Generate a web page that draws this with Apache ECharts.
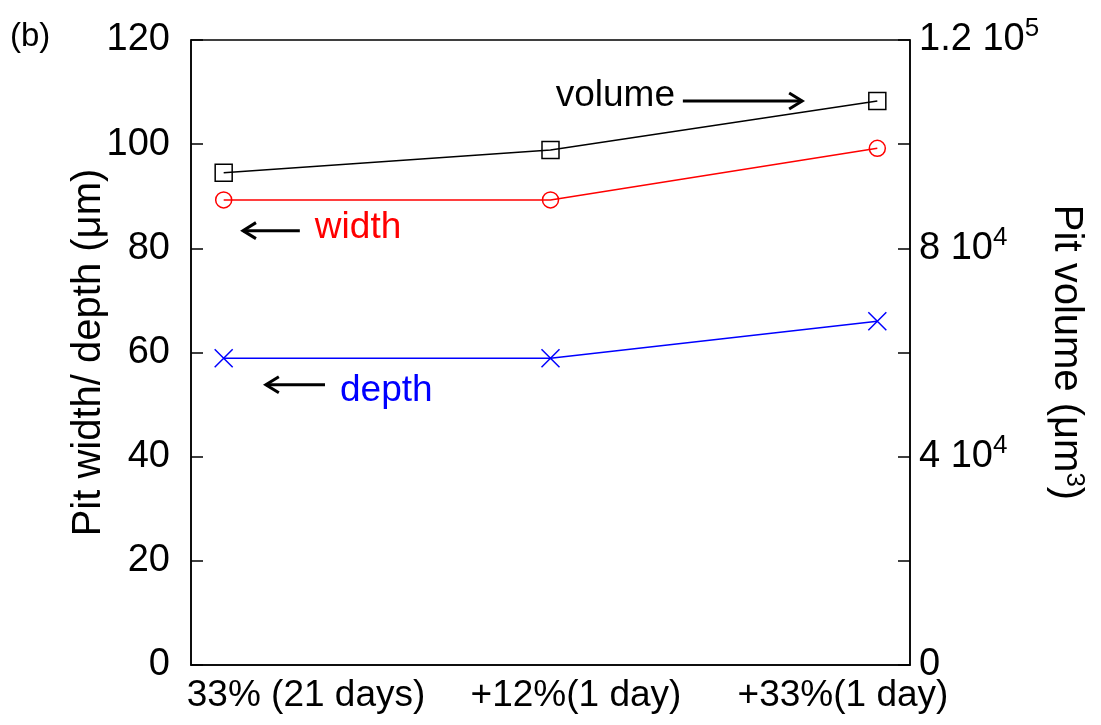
<!DOCTYPE html>
<html>
<head>
<meta charset="utf-8">
<script src="https://cdn.jsdelivr.net/npm/echarts@6/dist/echarts.min.js"></script>
<style>html,body{margin:0;padding:0;background:#fff}#c{width:1101px;height:725px}</style>
</head>
<body>
<div id="c"></div>
<script>
// ---- data ----
const categories = ['33% (21 days)', '+12%(1 day)', '+33%(1 day)'];
const widthValues = [89.3, 89.3, 99.2];      // µm (left axis)
const depthValues = [58.9, 58.9, 66.0];      // µm (left axis)
const volumeValues = [94500, 98900, 108300]; // µm^3 (right axis)
const leftTicks = [0, 20, 40, 60, 80, 100, 120];
const rightTicks = [0, 40000, 80000, 120000];

const FONT = '"Liberation Sans", Arial, sans-serif';
const chart = echarts.init(document.getElementById('c'), null, {renderer: 'canvas'});

function pairs(vals) { return vals.map((v, i) => [i, v]); }
function sci(v) {
  if (v === 0) return '0';
  if (rightTicks.indexOf(v) < 0) return '';
  const e = Math.floor(Math.log10(v));
  const m = Math.round(v / Math.pow(10, e) * 10) / 10;
  return '{n|' + m + ' 10}{sup|' + e + '}';
}

const option = {
  animation: false,
  backgroundColor: '#fff',
  textStyle: {fontFamily: FONT},
  grid: {left: 191, right: 191, top: 40, bottom: 60, show: true, borderColor: '#000', borderWidth: 1.5, backgroundColor: 'transparent'},
  xAxis: {
    type: 'value', min: -0.1, max: 2.1,
    splitLine: {show: false},
    axisLine: {show: true, onZero: false, lineStyle: {color: '#000', width: 1.5}},
    axisTick: {show: false},
    axisLabel: {
      customValues: [0.252, 1.078, 1.895],
      formatter: v => categories[Math.round(v)] || '',
      color: '#000', fontSize: 37, fontFamily: FONT, margin: 12
    }
  },
  yAxis: [
    {
      type: 'value', min: 0, max: 120, interval: 20,
      name: 'Pit width/ depth (μm)', nameLocation: 'middle', nameGap: 82, nameRotate: 90,
      nameMoveOverlap: false,
      nameTextStyle: {color: '#000', fontSize: 40, fontFamily: FONT},
      splitLine: {show: false},
      axisLine: {show: true, onZero: false, lineStyle: {color: '#000', width: 1.5}},
      axisTick: {show: true, inside: true, length: 12, lineStyle: {color: '#000', width: 1.5}},
      axisLabel: {color: '#000', fontSize: 38, fontFamily: FONT, margin: 21}
    },
    {
      type: 'value', min: 0, max: 120000, interval: 20000, position: 'right',
      name: 'Pit volume (μm{sup|3})', nameLocation: 'middle', nameGap: 135, nameRotate: -90,
      nameMoveOverlap: false,
      nameTextStyle: {color: '#000', fontSize: 40, fontFamily: FONT,
        rich: {sup: {fontSize: 26, fontFamily: FONT, color: '#000', verticalAlign: 'top', padding: [0, 0, 16, 0]}}},
      splitLine: {show: false},
      axisLine: {show: true, onZero: false, lineStyle: {color: '#000', width: 1.5}},
      axisTick: {show: true, inside: true, length: 12, lineStyle: {color: '#000', width: 1.5}},
      axisLabel: {
        color: '#000', fontSize: 38, fontFamily: FONT, margin: 9,
        formatter: sci,
        rich: {
          n: {fontSize: 38, fontFamily: FONT, color: '#000'},
          sup: {fontSize: 26, fontFamily: FONT, color: '#000', verticalAlign: 'top', padding: [0, 0, 22, 0]}
        }
      }
    }
  ],
  series: [
    {
      name: 'volume', type: 'line', yAxisIndex: 1, data: pairs(volumeValues),
      symbol: 'rect', symbolSize: 17,
      lineStyle: {color: '#000', width: 1.5},
      itemStyle: {color: 'transparent', borderColor: '#000', borderWidth: 1.5},
      z: 3
    },
    {
      name: 'width', type: 'line', yAxisIndex: 0, data: pairs(widthValues),
      symbol: 'circle', symbolSize: 16,
      lineStyle: {color: '#ff0000', width: 1.5},
      itemStyle: {color: 'transparent', borderColor: '#ff0000', borderWidth: 1.5}
    },
    {
      name: 'depth', type: 'line', yAxisIndex: 0, data: pairs(depthValues),
      symbol: 'path://M0,0L10,10M10,0L0,10', symbolSize: 18,
      lineStyle: {color: '#0000ff', width: 1.5},
      itemStyle: {color: 'transparent', borderColor: '#0000ff', borderWidth: 1.5}
    }
  ]
};
chart.setOption(option);

// ---- annotations (data coordinates on left axis) ----
const arrowDefs = [
  {from: [1.405, 108.3], to: [1.77, 108.3]},
  {from: [0.233, 83.4], to: [0.059, 83.4]},
  {from: [0.310, 53.8], to: [0.129, 53.8]}
];
const textDefs = [
  {text: 'volume', at: [1.381, 109.3], align: 'right', color: '#000'},
  {text: 'width', at: [0.279, 83.9], align: 'left', color: '#ff0000'},
  {text: 'depth', at: [0.356, 52.6], align: 'left', color: '#0000ff'}
];
function px(p) { return chart.convertToPixel({xAxisIndex: 0, yAxisIndex: 0}, p); }
const g = [];
arrowDefs.forEach(a => {
  const f = px(a.from), t = px(a.to);
  const dir = Math.sign(t[0] - f[0]);
  g.push({type: 'line', shape: {x1: f[0], y1: f[1], x2: t[0], y2: t[1]}, style: {stroke: '#000', lineWidth: 3}});
  g.push({type: 'polyline', shape: {points: [[t[0] - dir * 13, t[1] - 8], [t[0], t[1]], [t[0] - dir * 13, t[1] + 8]]},
    style: {stroke: '#000', lineWidth: 3, fill: null}});
});
textDefs.forEach(d => {
  const p = px(d.at);
  g.push({type: 'text', x: p[0], y: p[1], style: {text: d.text, fill: d.color, font: '37px ' + FONT, align: d.align, verticalAlign: 'middle'}});
});
g.push({type: 'text', left: 10, top: 20, style: {text: '(b)', fill: '#000', font: '33px ' + FONT}});
chart.setOption({graphic: g});
</script>
</body>
</html>
